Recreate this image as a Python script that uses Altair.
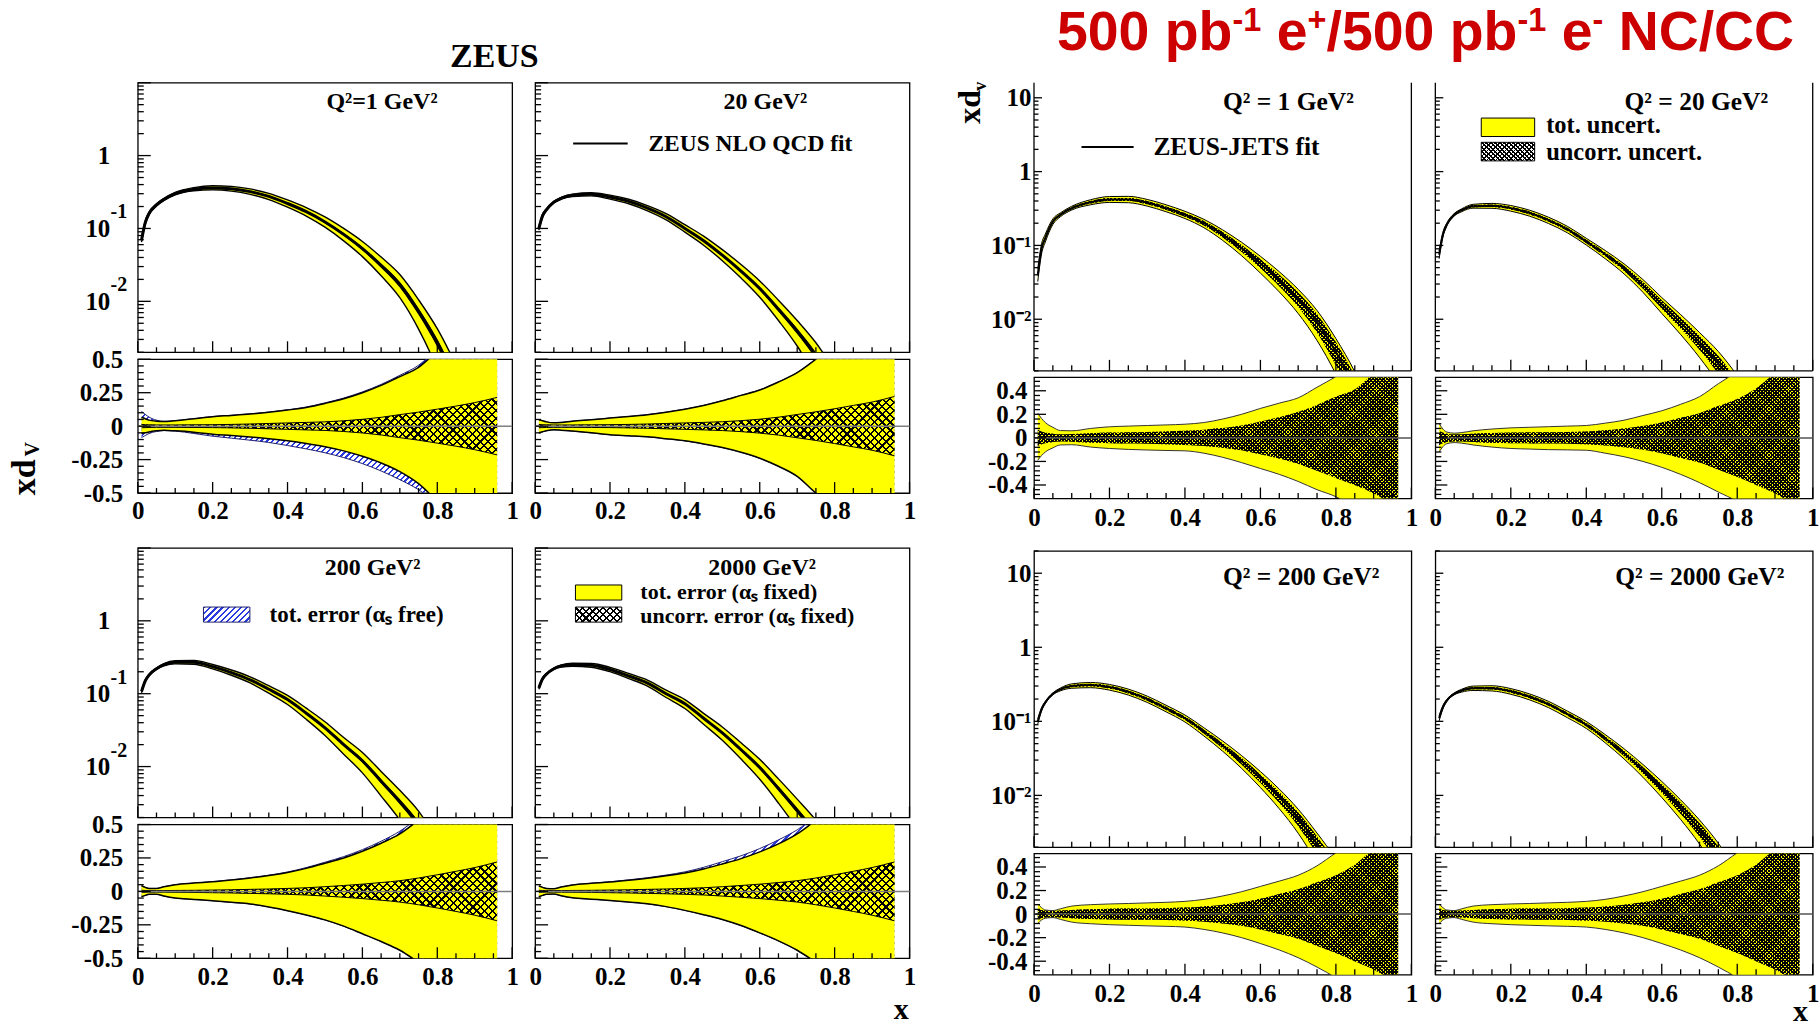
import math
import altair as alt
import pandas as pd

# ---------------- x grids ----------------
LX = [0.01, 0.02, 0.03, 0.05, 0.07, 0.1, 0.15, 0.2, 0.25, 0.3, 0.35, 0.4, 0.45, 0.5,
      0.55, 0.6, 0.65, 0.7, 0.75, 0.8, 0.85, 0.9, 0.96]
RX = [0.01, 0.02, 0.03, 0.05, 0.07, 0.1, 0.15, 0.2, 0.25, 0.3, 0.35, 0.4, 0.45, 0.5,
      0.55, 0.6, 0.65, 0.7, 0.75, 0.8, 0.85, 0.9, 0.965]

# ---------------- ZEUS (left block) ----------------
Z_LABELS = ["Q²=1 GeV²", "20 GeV²", "200 GeV²", "2000 GeV²"]
Z1_XDV = [0.069, 0.12, 0.16, 0.21, 0.25, 0.30, 0.345, 0.36, 0.35, 0.32, 0.275, 0.22, 0.17, 0.123,
          0.083, 0.053, 0.031, 0.017, 0.0073, 0.0027, 0.0008, 0.0002, 0.00003]
Z2_XDV = [0.10, 0.15, 0.18, 0.23, 0.26, 0.285, 0.295, 0.27, 0.235, 0.19, 0.145, 0.10, 0.068, 0.043,
          0.026, 0.015, 0.0078, 0.0039, 0.0018, 0.0007, 0.00025, 0.00007, 0.00001]
Z3_XDV = [0.107, 0.15, 0.18, 0.22, 0.25, 0.27, 0.27, 0.235, 0.195, 0.155, 0.115, 0.083, 0.054, 0.034,
          0.020, 0.012, 0.0063, 0.0033, 0.0016, 0.0006, 0.0002, 0.00005, 0.00001]
Z4_XDV = [0.12, 0.16, 0.185, 0.22, 0.24, 0.25, 0.245, 0.215, 0.175, 0.14, 0.10, 0.073, 0.046, 0.029,
          0.017, 0.0097, 0.005, 0.0025, 0.0012, 0.0005, 0.00015, 0.00004, 0.00001]

Z1_TOT_UP = [0.066, 0.055, 0.045, 0.037, 0.034, 0.04, 0.055, 0.071, 0.08, 0.09, 0.103, 0.12, 0.14, 0.17,
             0.205, 0.25, 0.305, 0.37, 0.44, 0.56, 0.68, 0.82, 1.0]
Z1_TOT_DN = [0.056, 0.05, 0.043, 0.035, 0.031, 0.035, 0.045, 0.06, 0.07, 0.081, 0.094, 0.11, 0.13, 0.154,
             0.185, 0.225, 0.275, 0.34, 0.43, 0.56, 0.68, 0.82, 1.0]
Z1_FREE_UP = [0.11, 0.088, 0.068, 0.045, 0.036, 0.041, 0.056, 0.072, 0.081, 0.092, 0.105, 0.122, 0.143, 0.174,
              0.21, 0.256, 0.312, 0.38, 0.455, 0.58, 0.7, 0.85, 1.0]
Z1_FREE_DN = [0.085, 0.07, 0.055, 0.04, 0.033, 0.037, 0.055, 0.075, 0.09, 0.105, 0.122, 0.145, 0.17, 0.199,
              0.235, 0.28, 0.335, 0.40, 0.475, 0.58, 0.7, 0.85, 1.0]
Z1_UNC = [0.012, 0.011, 0.01, 0.009, 0.009, 0.009, 0.01, 0.011, 0.013, 0.016, 0.02, 0.024, 0.028, 0.032,
          0.04, 0.051, 0.066, 0.086, 0.105, 0.127, 0.15, 0.176, 0.215]

Z2_TOT_UP = [0.047, 0.04, 0.032, 0.025, 0.028, 0.037, 0.048, 0.06, 0.072, 0.086, 0.104, 0.127, 0.155, 0.19,
             0.23, 0.27, 0.33, 0.40, 0.5, 0.6, 0.7, 0.82, 1.0]
Z2_TOT_DN = [0.05, 0.042, 0.034, 0.027, 0.03, 0.037, 0.05, 0.064, 0.072, 0.08, 0.094, 0.11, 0.133, 0.16,
             0.195, 0.24, 0.3, 0.375, 0.5, 0.6, 0.7, 0.82, 1.0]
Z2_FREE_UP = [0.047, 0.04, 0.032, 0.025, 0.028, 0.037, 0.048, 0.06, 0.072, 0.086, 0.104, 0.127, 0.155, 0.19,
              0.23, 0.27, 0.33, 0.40, 0.5, 0.6, 0.7, 0.82, 1.0]
Z2_FREE_DN = [0.05, 0.042, 0.034, 0.027, 0.03, 0.037, 0.05, 0.064, 0.072, 0.08, 0.094, 0.11, 0.133, 0.16,
              0.195, 0.24, 0.3, 0.375, 0.5, 0.6, 0.7, 0.82, 1.0]
Z2_UNC = [0.012, 0.011, 0.01, 0.009, 0.009, 0.009, 0.01, 0.011, 0.013, 0.016, 0.02, 0.024, 0.028, 0.033,
          0.041, 0.052, 0.067, 0.087, 0.107, 0.13, 0.155, 0.18, 0.222]

Z3_TOT_UP = [0.042, 0.03, 0.022, 0.022, 0.035, 0.05, 0.062, 0.072, 0.085, 0.1, 0.118, 0.141, 0.172, 0.21,
             0.25, 0.30, 0.36, 0.43, 0.53, 0.62, 0.72, 0.84, 1.0]
Z3_TOT_DN = [0.04, 0.03, 0.022, 0.022, 0.035, 0.05, 0.06, 0.07, 0.082, 0.094, 0.116, 0.144, 0.176, 0.213,
             0.26, 0.317, 0.375, 0.44, 0.53, 0.62, 0.72, 0.84, 1.0]
Z3_FREE_UP = [0.042, 0.03, 0.022, 0.022, 0.035, 0.05, 0.062, 0.073, 0.086, 0.102, 0.121, 0.145, 0.178, 0.218,
              0.26, 0.312, 0.375, 0.45, 0.55, 0.64, 0.74, 0.86, 1.0]
Z3_FREE_DN = [0.04, 0.03, 0.022, 0.022, 0.035, 0.05, 0.06, 0.07, 0.082, 0.094, 0.116, 0.144, 0.176, 0.213,
              0.26, 0.317, 0.375, 0.44, 0.53, 0.62, 0.72, 0.84, 1.0]
Z3_UNC = [0.008, 0.007, 0.006, 0.006, 0.006, 0.007, 0.008, 0.01, 0.012, 0.015, 0.018, 0.022, 0.027, 0.035,
          0.044, 0.054, 0.066, 0.08, 0.1, 0.124, 0.15, 0.178, 0.22]

Z4_TOT_UP = [0.04, 0.03, 0.022, 0.02, 0.033, 0.048, 0.06, 0.07, 0.083, 0.098, 0.116, 0.138, 0.168, 0.205,
             0.245, 0.295, 0.355, 0.43, 0.53, 0.62, 0.72, 0.84, 1.0]
Z4_TOT_DN = [0.04, 0.03, 0.022, 0.02, 0.033, 0.048, 0.058, 0.068, 0.08, 0.093, 0.114, 0.142, 0.174, 0.21,
             0.255, 0.31, 0.37, 0.44, 0.53, 0.62, 0.72, 0.84, 1.0]
Z4_FREE_UP = [0.04, 0.03, 0.022, 0.02, 0.033, 0.048, 0.06, 0.072, 0.086, 0.102, 0.122, 0.146, 0.18, 0.222,
              0.266, 0.32, 0.385, 0.46, 0.56, 0.65, 0.75, 0.86, 1.0]
Z4_FREE_DN = [0.04, 0.03, 0.022, 0.02, 0.033, 0.048, 0.058, 0.068, 0.08, 0.093, 0.114, 0.142, 0.174, 0.21,
              0.255, 0.31, 0.37, 0.44, 0.53, 0.62, 0.72, 0.84, 1.0]
Z4_UNC = [0.008, 0.007, 0.006, 0.006, 0.006, 0.007, 0.008, 0.01, 0.012, 0.015, 0.018, 0.022, 0.027, 0.035,
          0.044, 0.054, 0.066, 0.08, 0.1, 0.124, 0.15, 0.178, 0.22]

# ---------------- 500 pb-1 projection (right block) ----------------
R_LABELS = ["Q² = 1 GeV²", "Q² = 20 GeV²", "Q² = 200 GeV²", "Q² = 2000 GeV²"]
R1_XDV = [0.04, 0.09, 0.126, 0.21, 0.26, 0.32, 0.385, 0.42, 0.42, 0.38, 0.32, 0.26, 0.20, 0.14,
          0.092, 0.057, 0.034, 0.019, 0.0092, 0.0036, 0.0012, 0.0003, 0.00003]
R2_XDV = [0.075, 0.14, 0.19, 0.26, 0.30, 0.34, 0.345, 0.32, 0.275, 0.22, 0.165, 0.113, 0.076, 0.049,
          0.029, 0.016, 0.009, 0.0049, 0.0025, 0.0011, 0.0004, 0.0001, 0.00001]
R3_XDV = [0.10, 0.145, 0.18, 0.235, 0.27, 0.30, 0.31, 0.29, 0.25, 0.20, 0.15, 0.11, 0.073, 0.047,
          0.029, 0.017, 0.0095, 0.0049, 0.0022, 0.0009, 0.0003, 0.00008, 0.00001]
R4_XDV = [0.11, 0.155, 0.19, 0.235, 0.26, 0.28, 0.28, 0.255, 0.215, 0.17, 0.125, 0.09, 0.059, 0.037,
          0.022, 0.0125, 0.0068, 0.0035, 0.0016, 0.0006, 0.0002, 0.00005, 0.00001]

R1_TOT_UP = [0.21, 0.165, 0.13, 0.09, 0.062, 0.06, 0.08, 0.094, 0.1, 0.105, 0.11, 0.116, 0.13, 0.16,
             0.2, 0.25, 0.295, 0.34, 0.43, 0.52, 0.62, 0.75, 0.9]
R1_TOT_DN = [0.19, 0.15, 0.12, 0.085, 0.06, 0.058, 0.078, 0.09, 0.098, 0.103, 0.107, 0.11, 0.13, 0.165,
             0.21, 0.26, 0.31, 0.37, 0.44, 0.5, 0.6, 0.75, 0.9]
R1_UNC_UP = [0.07, 0.055, 0.045, 0.035, 0.03, 0.032, 0.04, 0.045, 0.048, 0.05, 0.055, 0.06, 0.07, 0.083,
             0.105, 0.14, 0.175, 0.22, 0.28, 0.35, 0.41, 0.55, 0.7]
R1_UNC_DN = [0.07, 0.055, 0.045, 0.035, 0.03, 0.032, 0.04, 0.045, 0.048, 0.05, 0.055, 0.06, 0.07, 0.083,
             0.105, 0.14, 0.175, 0.22, 0.28, 0.34, 0.4, 0.47, 0.6]

R2_TOT_UP = [0.124, 0.075, 0.05, 0.04, 0.045, 0.06, 0.075, 0.085, 0.09, 0.095, 0.1, 0.105, 0.125, 0.15,
             0.19, 0.23, 0.285, 0.35, 0.46, 0.56, 0.65, 0.75, 0.9]
R2_TOT_DN = [0.12, 0.075, 0.05, 0.04, 0.045, 0.06, 0.078, 0.09, 0.095, 0.1, 0.102, 0.105, 0.13, 0.16,
             0.2, 0.25, 0.31, 0.38, 0.46, 0.54, 0.65, 0.75, 0.9]
R2_UNC_UP = [0.06, 0.045, 0.035, 0.03, 0.03, 0.035, 0.042, 0.045, 0.047, 0.048, 0.05, 0.055, 0.065, 0.08,
             0.1, 0.13, 0.17, 0.21, 0.27, 0.33, 0.42, 0.55, 0.7]
R2_UNC_DN = [0.06, 0.045, 0.035, 0.03, 0.03, 0.035, 0.042, 0.045, 0.047, 0.048, 0.05, 0.055, 0.065, 0.08,
             0.1, 0.13, 0.17, 0.21, 0.27, 0.33, 0.4, 0.47, 0.6]

R3_TOT_UP = [0.086, 0.055, 0.035, 0.03, 0.045, 0.068, 0.08, 0.086, 0.09, 0.095, 0.1, 0.108, 0.125, 0.154,
             0.19, 0.235, 0.28, 0.33, 0.41, 0.52, 0.62, 0.75, 0.9]
R3_TOT_DN = [0.08, 0.05, 0.035, 0.03, 0.045, 0.068, 0.082, 0.09, 0.095, 0.1, 0.104, 0.11, 0.13, 0.16,
             0.2, 0.25, 0.305, 0.37, 0.45, 0.54, 0.64, 0.75, 0.9]
R3_UNC_UP = [0.04, 0.035, 0.03, 0.028, 0.03, 0.035, 0.042, 0.045, 0.047, 0.048, 0.05, 0.055, 0.065, 0.08,
             0.1, 0.13, 0.17, 0.21, 0.27, 0.33, 0.42, 0.55, 0.7]
R3_UNC_DN = [0.04, 0.035, 0.03, 0.028, 0.03, 0.035, 0.042, 0.045, 0.047, 0.048, 0.05, 0.055, 0.065, 0.08,
             0.1, 0.13, 0.17, 0.21, 0.27, 0.33, 0.4, 0.47, 0.6]

R4_TOT_UP = [0.086, 0.055, 0.035, 0.03, 0.045, 0.068, 0.08, 0.086, 0.09, 0.095, 0.1, 0.108, 0.125, 0.154,
             0.19, 0.235, 0.28, 0.33, 0.41, 0.52, 0.62, 0.75, 0.9]
R4_TOT_DN = [0.08, 0.05, 0.035, 0.03, 0.045, 0.068, 0.082, 0.09, 0.095, 0.1, 0.104, 0.11, 0.13, 0.16,
             0.2, 0.25, 0.305, 0.37, 0.45, 0.54, 0.64, 0.75, 0.9]
R4_UNC_UP = [0.04, 0.035, 0.03, 0.028, 0.03, 0.035, 0.042, 0.045, 0.047, 0.048, 0.05, 0.055, 0.065, 0.08,
             0.1, 0.13, 0.17, 0.21, 0.27, 0.33, 0.42, 0.55, 0.7]
R4_UNC_DN = [0.04, 0.035, 0.03, 0.028, 0.03, 0.035, 0.042, 0.045, 0.047, 0.048, 0.05, 0.055, 0.065, 0.08,
             0.1, 0.13, 0.17, 0.21, 0.27, 0.33, 0.4, 0.47, 0.6]

# ---------------- tick values ----------------
LOG_MAJOR = [0.01, 0.1, 1, 10]
LOG_MINOR = [round(k * 10.0 ** e, 6) for e in (-3, -2, -1, 0, 1) for k in range(2, 10)]
X_MAJOR = [0, 0.2, 0.4, 0.6, 0.8, 1]
X_MINOR = [round(0.05 * i, 2) for i in range(21) if i % 4 != 0]
Z_R_MAJOR = [-0.5, -0.25, 0, 0.25, 0.5]
Z_R_MINOR = [round(0.05 * i, 2) for i in range(-10, 11) if i % 5 != 0]
R_R_MAJOR = [-0.4, -0.2, 0, 0.2, 0.4]
R_R_MINOR = [round(0.04 * i, 2) for i in range(-12, 13) if i % 5 != 0]

# ---------------- styling / geometry ----------------
SERIF = "Liberation Serif"
SANS = "Liberation Sans"
YELLOW = "#ffff00"
CLEAR = "rgba(0,0,0,0)"
BLUE = "#2a3adf"
RED = "#cc0000"
ONE = pd.DataFrame({"a": [0]})

ZW, ZHU, ZHR = 375, 270, 134
Z_COLGAP, Z_INGAP, Z_ROWGAP = 23, 7, 55
RW, RHU1, RHU2, RHR = 378, 288.6, 296.7, 121.5
R_COLGAP, R_INGAP = 24, 6
R_SPACER = 548.3 - (80.7 + RHU1 + R_INGAP + RHR) - 2 * R_INGAP
Z_SPACER = Z_ROWGAP - 2 * Z_INGAP
YMIN = 0.002
Z_YMAX, R_YMAX1, R_YMAX2 = 10, 16, 20
R_RLIM = 0.515
R_LEFT_PAD = 90
GROUP_GAP = (1033 - R_LEFT_PAD) - (535.3 + ZW + 10)


def stripes(w, h, period, lw, color, direction):
    w = max(w, 1.0)
    h = max(h, 1.0)
    n = max(2, int(round((w + h) / (math.sqrt(2) * period))))
    f = min(0.9, lw / period)
    stops = []
    for k in range(n):
        a0 = round(k / n, 5)
        a1 = round((k + f) / n, 5)
        a2 = round((k + 1) / n, 5)
        stops += [{"offset": a0, "color": color}, {"offset": a1, "color": color},
                  {"offset": a1, "color": CLEAR}, {"offset": a2, "color": CLEAR}]
    r = h / w
    g = (1 + r) / (1 + r * r)
    if direction > 0:
        return {"gradient": "linear", "x1": 0, "y1": 0, "x2": round(g, 5), "y2": round(g * r, 5), "stops": stops}
    return {"gradient": "linear", "x1": 0, "y1": 1, "x2": round(g, 5), "y2": round(1 - g * r, 5), "stops": stops}


def txt(s, x, y, size, align="center", baseline="middle", font=SERIF, color="black", angle=0):
    kw = dict(text=s, align=align, baseline=baseline, font=font, fontSize=size, fontWeight="bold", color=color)
    if angle:
        kw["angle"] = angle
    return alt.Chart(ONE).mark_text(**kw).encode(x=alt.value(x), y=alt.value(y))


def box(x1, x2, y1, y2, fill, stroke=None, sw=1.0):
    kw = dict(fill=fill)
    if stroke:
        kw.update(stroke=stroke, strokeWidth=sw)
    return alt.Chart(ONE).mark_rect(**kw).encode(x=alt.value(x1), x2=alt.value(x2), y=alt.value(y1), y2=alt.value(y2))


def seg(x1, x2, y1, y2, color="black", sw=1.3, opacity=1.0):
    return alt.Chart(ONE).mark_rule(color=color, strokeWidth=sw, opacity=opacity).encode(
        x=alt.value(x1), x2=alt.value(x2), y=alt.value(y1), y2=alt.value(y2))


def hatch_box(x1, x2, y1, y2, period, lw):
    w, h = x2 - x1, y2 - y1
    return [box(x1, x2, y1, y2, "white"),
            box(x1, x2, y1, y2, stripes(w, h, period, lw, "black", 1)),
            box(x1, x2, y1, y2, stripes(w, h, period, lw, "black", -1)),
            box(x1, x2, y1, y2, CLEAR, stroke="black", sw=1.0)]


def lbl_axis(values, expr, size, pad):
    return alt.Axis(values=values, labelExpr=expr, labelFontSize=size, labelPadding=pad, labelFont=SERIF,
                    labelFontWeight="bold", labelColor="black", ticks=False, domain=False, grid=False,
                    title=None, labelOverlap=False, labelFlush=False)


NB = "\u00a0"
Z_LOG_AXIS = lbl_axis([0.01, 0.1, 1], "datum.value == 1 ? '1' : '10" + NB + NB + "'", 25, 28)
Z_R_AXIS = lbl_axis(Z_R_MAJOR, "datum.value + ''", 25, 15)
Z_X_AXIS = lbl_axis(X_MAJOR, "datum.value + ''", 25, 6)
R_LOG_AXIS = lbl_axis(LOG_MAJOR, "datum.value == 10 ? '10' : datum.value == 1 ? '1' : "
                                 "datum.value == 0.1 ? '10⁻¹' : '10⁻²'", 25, 3)
R_R_AXIS = lbl_axis(R_R_MAJOR, "datum.value + ''", 25, 7)
R_X_AXIS = lbl_axis(X_MAJOR, "datum.value + ''", 25, 7)


def yticks(vals, ysc, axis_y, size):
    return alt.Chart(pd.DataFrame({"v": vals})).mark_tick(
        orient="horizontal", size=size, thickness=1.3, color="black", opacity=1).encode(
        y=alt.Y("v:Q", scale=ysc, axis=axis_y), x=alt.value(size / 2))


def xticks(vals, xsc, axis_x, H, size):
    return alt.Chart(pd.DataFrame({"v": vals})).mark_tick(
        orient="vertical", size=size, thickness=1.3, color="black", opacity=1).encode(
        x=alt.X("v:Q", scale=xsc, axis=axis_x), y=alt.value(H - size / 2))


def upper_panel(xg, xdv, up, dn, uup, udn, W, H, ymax, axis_y, style, extras=(), exp_labels=False,
                open_top=False):
    rows = []
    for x, c, u, d, eu, ed in zip(xg, xdv, up, dn, uup, udn):
        if c < 3e-4 or d >= 1 or ed >= 1:
            continue
        rows.append(dict(x=x, c=c, hi=c * (1 + u), lo=c * (1 - d), uhi=c * (1 + eu), ulo=c * (1 - ed)))
    df = pd.DataFrame(rows)
    xsc = alt.Scale(domain=[0, 1], nice=False, zero=False)
    ysc = alt.Scale(type="log", domain=[YMIN, ymax], nice=False)

    def X(f="x"):
        return alt.X(f + ":Q", scale=xsc, axis=None)

    def Y(f):
        return alt.Y(f + ":Q", scale=ysc, axis=axis_y)

    base = alt.Chart(df)
    A = dict(clip=True, interpolate="monotone")
    layers = [base.mark_area(fill=YELLOW, **A).encode(x=X(), y=Y("lo"), y2=alt.Y2("hi"))]
    if style == "zeus":
        layers.append(base.mark_area(fill="#000000", **A).encode(x=X(), y=Y("ulo"), y2=alt.Y2("uhi")))
        ew, cw = 1.4, 3.0
        ty, tyn, tx, txn = 13, 6, 11, 5
    else:
        dec = math.log10(ymax / YMIN)
        w = (df.x.max() - df.x.min()) * W
        h = (math.log10(df.uhi.max()) - math.log10(df.ulo.min())) * H / dec
        for d in (1, -1):
            layers.append(base.mark_area(fill=stripes(w, h, 2.6, 1.3, "#000000", d), **A).encode(
                x=X(), y=Y("ulo"), y2=alt.Y2("uhi")))
        ew, cw = 1.0, 2.0
        ty, tyn, tx, txn = 8, 4.5, 11, 5.5
    for f in ("hi", "lo"):
        layers.append(base.mark_line(color="black", strokeWidth=ew, **A).encode(x=X(), y=Y(f)))
    layers.append(base.mark_line(color="black", strokeWidth=cw, **A).encode(x=X(), y=Y("c")))
    maj = [v for v in LOG_MAJOR if YMIN <= v <= ymax]
    mino = [v for v in LOG_MINOR if YMIN <= v <= ymax]
    layers += [yticks(maj, ysc, axis_y, ty), yticks(mino, ysc, axis_y, tyn),
               xticks(X_MAJOR, xsc, None, H, tx), xticks(X_MINOR, xsc, None, H, txn)]
    if exp_labels:
        edf = pd.DataFrame({"v": [0.1, 0.01], "e": ["-1", "-2"]})
        layers.append(alt.Chart(edf).mark_text(align="left", baseline="middle", dy=-16, font=SERIF,
                                               fontWeight="bold", fontSize=20, color="black").encode(
            y=alt.Y("v:Q", scale=ysc, axis=axis_y), x=alt.value(-27.3), text="e:N"))
    if open_top:
        layers += [seg(0, 0, 0, H), seg(W, W, 0, H), seg(0, W, H, H)]
    layers += list(extras)
    ch = alt.layer(*layers).properties(width=W, height=H)
    if open_top:
        ch = ch.properties(view=alt.ViewBackground(stroke="transparent"))
    return ch


def z_ratio(up, dn, fup, fdn, unc, axis_y, extras=()):
    W, H = ZW, ZHR
    df = pd.DataFrame({"x": LX, "tu": up, "td": [-v for v in dn], "fu": fup, "fd": [-v for v in fdn],
                       "uu": unc, "ud": [-v for v in unc]})
    xsc = alt.Scale(domain=[0, 1], nice=False, zero=False)
    ysc = alt.Scale(domain=[-0.5, 0.5], nice=False, zero=False)
    X = alt.X("x:Q", scale=xsc, axis=Z_X_AXIS)

    def Y(f):
        return alt.Y(f + ":Q", scale=ysc, axis=axis_y)

    base = alt.Chart(df)
    A = dict(clip=True, interpolate="monotone")
    w = (max(LX) - min(LX)) * W
    fh = (max(fup) + max(fdn)) * H
    uh = 2 * max(unc) * H
    layers = [
        base.mark_area(fill=stripes(w, fh, 4.2, 1.5, BLUE, 1), **A).encode(x=X, y=Y("fd"), y2=alt.Y2("fu")),
        base.mark_line(color="#202070", strokeWidth=1.0, **A).encode(x=X, y=Y("fu")),
        base.mark_line(color="#202070", strokeWidth=1.0, **A).encode(x=X, y=Y("fd")),
        base.mark_area(fill=YELLOW, **A).encode(x=X, y=Y("td"), y2=alt.Y2("tu")),
        base.mark_line(color="black", strokeWidth=1.5, **A).encode(x=X, y=Y("tu")),
        base.mark_line(color="black", strokeWidth=1.5, **A).encode(x=X, y=Y("td")),
        base.mark_area(fill=stripes(w, uh, 5.5, 1.6, "#000000", 1), **A).encode(x=X, y=Y("ud"), y2=alt.Y2("uu")),
        base.mark_area(fill=stripes(w, uh, 5.5, 1.6, "#000000", -1), **A).encode(x=X, y=Y("ud"), y2=alt.Y2("uu")),
        base.mark_line(color="black", strokeWidth=1.0, **A).encode(x=X, y=Y("uu")),
        base.mark_line(color="black", strokeWidth=1.0, **A).encode(x=X, y=Y("ud")),
        alt.Chart(ONE).mark_rule(color="#7f7f7f", strokeWidth=1.5).encode(
            y=alt.YDatum(0, type="quantitative", scale=ysc, axis=axis_y)),
        yticks(Z_R_MAJOR, ysc, axis_y, 13), yticks(Z_R_MINOR, ysc, axis_y, 6),
        xticks(X_MAJOR, xsc, Z_X_AXIS, H, 11), xticks(X_MINOR, xsc, Z_X_AXIS, H, 5),
    ]
    layers += list(extras)
    return alt.layer(*layers).properties(width=W, height=H)


def r_ratio(tu, td, uu, ud, axis_y, extras=()):
    W, H = RW, RHR
    df = pd.DataFrame({"x": RX, "tu": tu, "td": [-v for v in td], "uu": uu, "ud": [-v for v in ud]})
    xsc = alt.Scale(domain=[0, 1], nice=False, zero=False)
    ysc = alt.Scale(domain=[-R_RLIM, R_RLIM], nice=False, zero=False)
    X = alt.X("x:Q", scale=xsc, axis=R_X_AXIS)

    def Y(f):
        return alt.Y(f + ":Q", scale=ysc, axis=axis_y)

    base = alt.Chart(df)
    A = dict(clip=True, interpolate="monotone")
    w = (max(RX) - min(RX)) * W
    h = (max(uu) + max(ud)) * H / (2 * R_RLIM)
    layers = [
        base.mark_area(fill=YELLOW, **A).encode(x=X, y=Y("td"), y2=alt.Y2("tu")),
        base.mark_area(fill=stripes(w, h, 2.5, 1.35, "#000000", 1), **A).encode(x=X, y=Y("ud"), y2=alt.Y2("uu")),
        base.mark_area(fill=stripes(w, h, 2.5, 1.35, "#000000", -1), **A).encode(x=X, y=Y("ud"), y2=alt.Y2("uu")),
        base.mark_line(color="#333333", strokeWidth=1.0, **A).encode(x=X, y=Y("tu")),
        base.mark_line(color="#333333", strokeWidth=1.0, **A).encode(x=X, y=Y("td")),
        alt.Chart(ONE).mark_rule(color="#555555", strokeWidth=1.5).encode(
            y=alt.YDatum(0, type="quantitative", scale=ysc, axis=axis_y)),
        yticks(R_R_MAJOR, ysc, axis_y, 12), yticks(R_R_MINOR, ysc, axis_y, 6),
        xticks(X_MAJOR, xsc, R_X_AXIS, H, 11), xticks(X_MINOR, xsc, R_X_AXIS, H, 5.5),
    ]
    layers += list(extras)
    return alt.layer(*layers).properties(width=W, height=H)


def spacer(w, h):
    return alt.Chart(ONE).mark_point(opacity=0).encode(x=alt.value(0), y=alt.value(0)).properties(
        width=w, height=h, view=alt.ViewBackground(stroke="transparent"))


# ---------------- left block: ZEUS ----------------
zu1_extra = [txt(Z_LABELS[0], 244.6, 19.1, 24), txt("ZEUS", 357.2, -25.5, 34),
             seg(-137.3, 0, -80.7, 0, opacity=0)]
zu2_extra = [txt(Z_LABELS[1], 230.7, 19.1, 24), seg(38.1, 92.7, 60.9, 60.9, sw=2.2),
             txt("ZEUS NLO QCD fit", 113.5, 60.9, 23.5, align="left"),
             seg(ZW, ZW + 10, 0, 0, opacity=0)]
zu3_extra = [txt(Z_LABELS[2], 235.3, 19.7, 24),
             box(65.8, 112.3, 59.2, 74.3, stripes(46.5, 15.1, 4.2, 1.5, BLUE, 1), stroke="#202070"),
             txt("tot. error (αₛ free)", 132, 67.3, 23, align="left")]
zu4_extra = ([txt(Z_LABELS[3], 227.3, 19.7, 24),
              box(40.4, 86.8, 37.1, 52.2, YELLOW, stroke="black")]
             + hatch_box(40.4, 86.8, 59.2, 74.3, 5.0, 1.5)
             + [txt("tot. error (αₛ fixed)", 105.4, 43.8, 22, align="left"),
                txt("uncorr. error (αₛ fixed)", 105.4, 68.3, 22, align="left")])
za1_extra = [txt("xd", -113.3, 118.3, 34, angle=270), txt("V", -105, 90.3, 20, angle=270)]
za4_extra = [txt("x", 366.6, 195, 30, baseline="alphabetic")]

ZU1 = upper_panel(LX, Z1_XDV, Z1_TOT_UP, Z1_TOT_DN, Z1_UNC, Z1_UNC, ZW, ZHU, Z_YMAX, Z_LOG_AXIS, "zeus",
                  zu1_extra, exp_labels=True)
ZU2 = upper_panel(LX, Z2_XDV, Z2_TOT_UP, Z2_TOT_DN, Z2_UNC, Z2_UNC, ZW, ZHU, Z_YMAX, None, "zeus", zu2_extra)
ZU3 = upper_panel(LX, Z3_XDV, Z3_TOT_UP, Z3_TOT_DN, Z3_UNC, Z3_UNC, ZW, ZHU, Z_YMAX, Z_LOG_AXIS, "zeus",
                  zu3_extra, exp_labels=True)
ZU4 = upper_panel(LX, Z4_XDV, Z4_TOT_UP, Z4_TOT_DN, Z4_UNC, Z4_UNC, ZW, ZHU, Z_YMAX, None, "zeus", zu4_extra)
ZA1 = z_ratio(Z1_TOT_UP, Z1_TOT_DN, Z1_FREE_UP, Z1_FREE_DN, Z1_UNC, Z_R_AXIS, za1_extra)
ZA2 = z_ratio(Z2_TOT_UP, Z2_TOT_DN, Z2_FREE_UP, Z2_FREE_DN, Z2_UNC, None)
ZA3 = z_ratio(Z3_TOT_UP, Z3_TOT_DN, Z3_FREE_UP, Z3_FREE_DN, Z3_UNC, Z_R_AXIS)
ZA4 = z_ratio(Z4_TOT_UP, Z4_TOT_DN, Z4_FREE_UP, Z4_FREE_DN, Z4_UNC, None, za4_extra)

LEFT = alt.concat(ZU1, ZU2, ZA1, ZA2, spacer(ZW, Z_SPACER), spacer(ZW, Z_SPACER), ZU3, ZU4, ZA3, ZA4,
                  columns=2, spacing={"row": Z_INGAP, "column": Z_COLGAP}, bounds="flush", align="each")

# ---------------- right block: 500 pb-1 projection ----------------
ADV = {'5': .556, '0': .556, ' ': .278, 'p': .611, 'b': .611, 'e': .556, '/': .278, 'N': .722, 'C': .722,
       '-': .333, '1': .556, '+': .584}
TITLE_PARTS = [("500 pb", 0), ("-1", 1), (" ", 0), ("e", 0), ("+", 1), ("/500 pb", 0), ("-1", 1), (" ", 0),
               ("e", 0), ("-", 1), (" ", 0), ("NC/CC", 0)]
title_marks = []
tx = 23.0
for s, sup in TITLE_PARTS:
    fs = 32.5 if sup else 55.5
    if s.strip():
        title_marks.append(txt(s, tx, -51.5 if sup else -33.1, fs, align="left", baseline="alphabetic",
                               font=SANS, color=RED))
    tx += sum(ADV[ch] for ch in s) * fs

ru1_extra = ([txt(R_LABELS[0], 254.8, 19.1, 25.5), seg(47.6, 99.8, 64.4, 64.4, sw=2.2),
              txt("ZEUS-JETS fit", 119.6, 64.4, 25.5, align="left"),
              txt("xd", -64, 24.3, 32, angle=270), txt("v", -53, 3.5, 18, angle=270),
              seg(-R_LEFT_PAD, 0, -80.7, 0, opacity=0)] + title_marks)
ru2_extra = ([txt(R_LABELS[1], 261.4, 19.1, 25.5), box(46, 99.5, 35.4, 53.9, YELLOW, stroke="black")]
             + hatch_box(46, 99.5, 59.7, 78.3, 3.2, 1.3)
             + [txt("tot. uncert.", 111, 43.2, 24.5, align="left"),
                txt("uncorr. uncert.", 111, 70.5, 24.5, align="left")])
ru3_extra = [txt(R_LABELS[2], 267.6, 26.2, 25.5)]
ru4_extra = [txt(R_LABELS[3], 264.9, 26.2, 25.5)]
ra4_extra = [txt("x", 365.8, 168, 30, baseline="alphabetic")]

RU1 = upper_panel(RX, R1_XDV, R1_TOT_UP, R1_TOT_DN, R1_UNC_UP, R1_UNC_DN, RW, RHU1, R_YMAX1, R_LOG_AXIS,
                  "proj", ru1_extra, open_top=True)
RU2 = upper_panel(RX, R2_XDV, R2_TOT_UP, R2_TOT_DN, R2_UNC_UP, R2_UNC_DN, RW, RHU1, R_YMAX1, None,
                  "proj", ru2_extra, open_top=True)
RU3 = upper_panel(RX, R3_XDV, R3_TOT_UP, R3_TOT_DN, R3_UNC_UP, R3_UNC_DN, RW, RHU2, R_YMAX2, R_LOG_AXIS,
                  "proj", ru3_extra)
RU4 = upper_panel(RX, R4_XDV, R4_TOT_UP, R4_TOT_DN, R4_UNC_UP, R4_UNC_DN, RW, RHU2, R_YMAX2, None,
                  "proj", ru4_extra)
RA1 = r_ratio(R1_TOT_UP, R1_TOT_DN, R1_UNC_UP, R1_UNC_DN, R_R_AXIS)
RA2 = r_ratio(R2_TOT_UP, R2_TOT_DN, R2_UNC_UP, R2_UNC_DN, None)
RA3 = r_ratio(R3_TOT_UP, R3_TOT_DN, R3_UNC_UP, R3_UNC_DN, R_R_AXIS)
RA4 = r_ratio(R4_TOT_UP, R4_TOT_DN, R4_UNC_UP, R4_UNC_DN, None, ra4_extra)

RIGHT = alt.concat(RU1, RU2, RA1, RA2, spacer(RW, R_SPACER), spacer(RW, R_SPACER), RU3, RU4, RA3, RA4,
                   columns=2, spacing={"row": R_INGAP, "column": R_COLGAP}, bounds="flush", align="each")

chart = alt.hconcat(LEFT, RIGHT, spacing=GROUP_GAP).properties(padding=0).configure_view(
    stroke="black", strokeWidth=1.3)

chart.save("out.html", embed_options={"renderer": "svg", "actions": False})
